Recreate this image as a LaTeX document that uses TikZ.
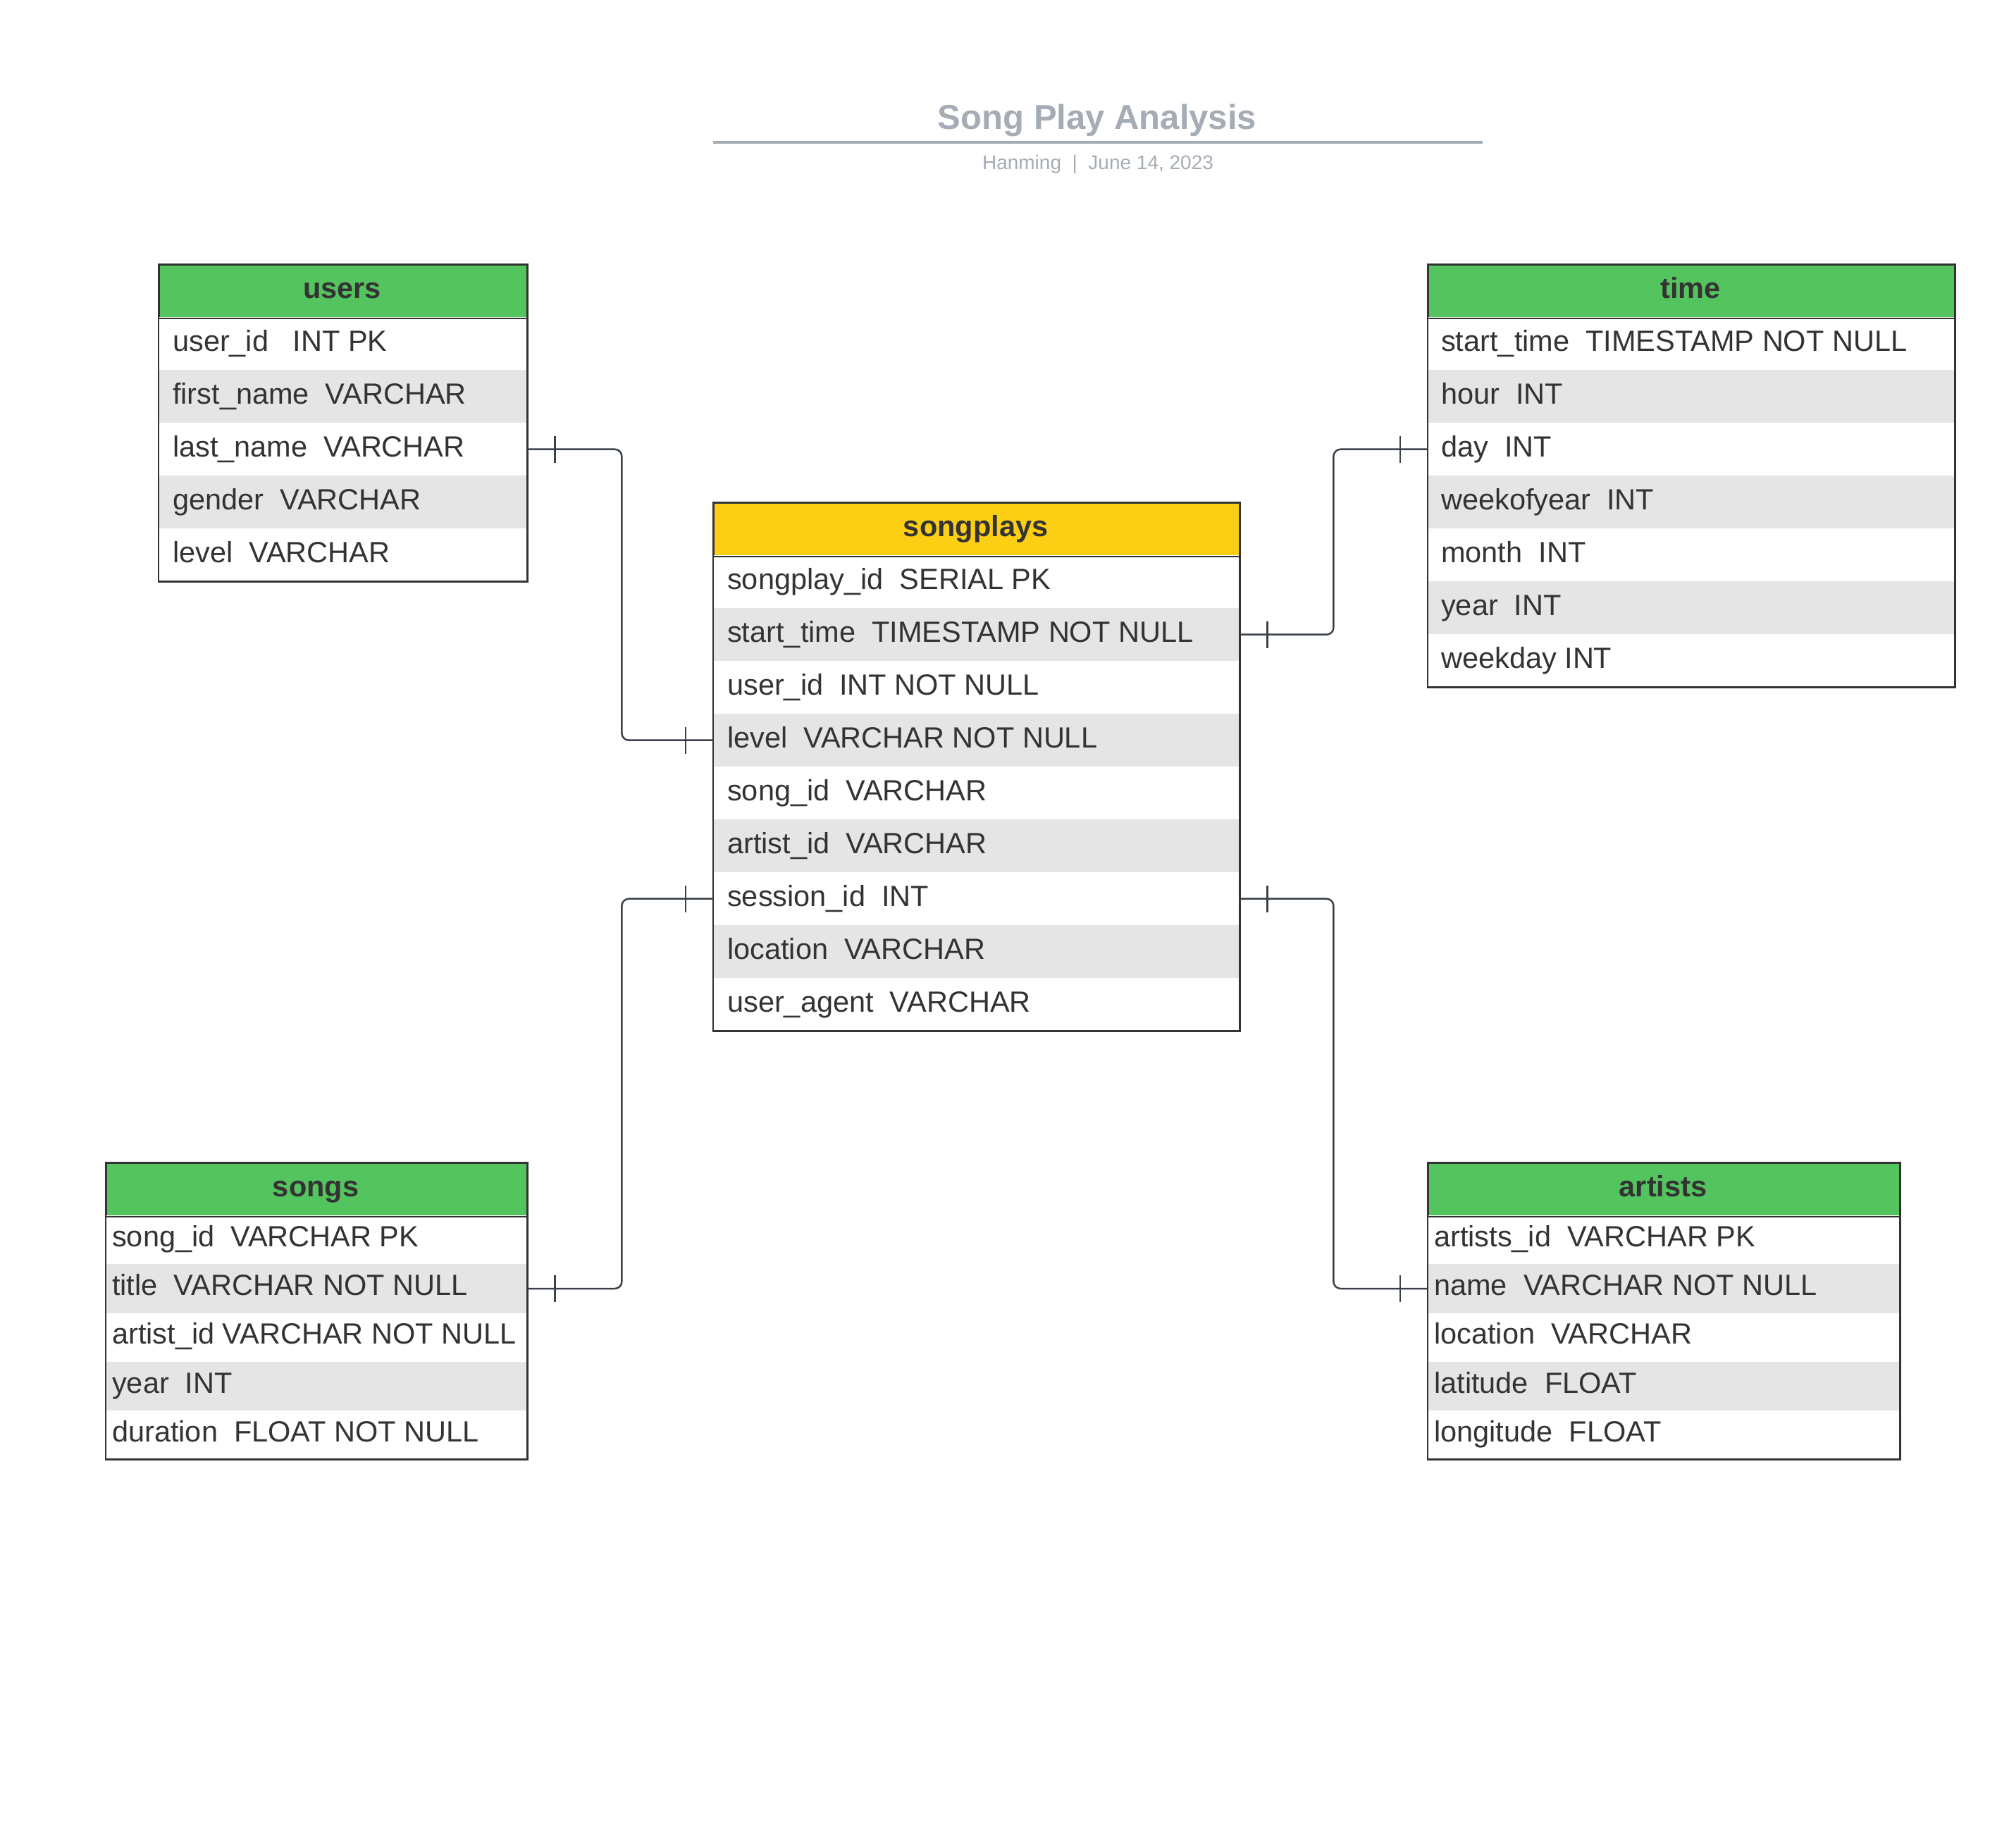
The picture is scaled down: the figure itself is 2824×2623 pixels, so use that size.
\documentclass[tikz,border=0pt]{standalone}
\usepackage{fontspec}
\setmainfont{Liberation Sans}
\usetikzlibrary{calc}
\definecolor{hdrgreen}{HTML}{54C45E}
\definecolor{hdryellow}{HTML}{FCCE14}
\definecolor{rowgray}{HTML}{E5E5E5}
\definecolor{ink}{HTML}{333333}
\definecolor{edgecol}{HTML}{3A414B}
\definecolor{titlegray}{HTML}{A5ACB5}
\tikzset{
 hdrbox/.style={draw=ink, line width=2.2pt, inner sep=0pt, minimum height=75pt},
 hdrtext/.style={inner sep=0pt, anchor=base, text=ink, font=\bfseries\fontsize{41.5}{49}\selectfont},
 rowbox/.style={inner sep=0pt, draw=none},
 fieldtext/.style={inner sep=0pt, font=\fontsize{41.5}{49}\selectfont, text=ink, anchor=base west},
 conn/.style={draw=edgecol, line width=2.5pt, rounded corners=10pt},
 tickmark/.style={draw=edgecol, line width=2.5pt},
}
% #1 name, #2 x, #3 y, #4 width, #5 row height, #6 header colour, #7 title, #8 inset, #9 rows
\newcommand{\ertable}[9]{%
  \node[hdrbox, fill=#6, minimum width=#4pt, anchor=north west] (#1) at (#2,#3) {};
  \node[hdrtext] (#1-t) at ($(#1.center)+(-2,10)$) {#7};
  \foreach \f [count=\i] in {#9} {
    \pgfmathsetmacro\yy{#3+75+(\i-1)*#5}
    \ifodd\i\relax\def\rc{white}\else\def\rc{rowgray}\fi
    \node[rowbox, fill=\rc, minimum width=#4pt, minimum height=#5pt, anchor=north west] (#1-\i) at (#2,\yy) {};
    \node[fieldtext] (#1-\i-t) at ($(#1-\i.west)+(#8,#5*0.14)$) {\f};
    \xdef\ernrows{\i}
  }
  \draw[ink, line width=2.2pt] (#1.north west) rectangle (#1-\ernrows.south east);
  \draw[ink, line width=2.2pt] (#1.south west) -- (#1.south east);
}
\begin{document}
\begin{tikzpicture}[x=1pt, y=-1pt]
\useasboundingbox[fill=white] (0,0) rectangle (2824,2623);

% title
\node[inner sep=0pt, anchor=base, text=titlegray, font=\bfseries\fontsize{49}{58}\selectfont] (title) at (1557,183) {Song Play Analysis};
\draw[titlegray, line width=4pt] (1012,202) coordinate (ruleA) -- (2104,202) coordinate (ruleB);
\node[inner sep=0pt, anchor=base, text=titlegray, font=\fontsize{28}{34}\selectfont] (subtitle) at (1558,240) {Hanming\ \ |\ \ June 14, 2023};

\ertable{users}{225}{375}{523}{75}{hdrgreen}{users}{20}{user\_id\ \ \ INT PK, first\_name\ \ VARCHAR, last\_name\ \ VARCHAR, gender\ \ VARCHAR, level\ \ VARCHAR}

\ertable{sp}{1012}{713}{747}{75}{hdryellow}{songplays}{20}{songplay\_id\ \ SERIAL PK, start\_time\ \ TIMESTAMP NOT NULL, user\_id\ \ INT NOT NULL, level\ \ VARCHAR NOT NULL, song\_id\ \ VARCHAR, artist\_id\ \ VARCHAR, session\_id\ \ INT, location\ \ VARCHAR, user\_agent\ \ VARCHAR}

\ertable{time}{2026}{375}{748}{75}{hdrgreen}{time}{19}{start\_time\ \ TIMESTAMP NOT NULL, hour\ \ INT, day\ \ INT, weekofyear\ \ INT, month\ \ INT, year\ \ INT, weekday INT}

\ertable{songs}{150}{1650}{598}{69.2}{hdrgreen}{songs}{9}{song\_id\ \ VARCHAR PK, title\ \ VARCHAR NOT NULL, artist\_id VARCHAR NOT NULL, year\ \ INT, duration\ \ FLOAT NOT NULL}

\ertable{artists}{2026}{1650}{670}{69.2}{hdrgreen}{artists}{9}{artists\_id\ \ VARCHAR PK, name\ \ VARCHAR NOT NULL, location\ \ VARCHAR, latitude\ \ FLOAT, longitude\ \ FLOAT}

% connectors
\draw[conn] (users-3.east) -- ++(134,0) |- (sp-4.west);
\draw[conn] (sp-2.east) -- ++(133,0) |- (time-3.west);
\draw[conn] (songs-2.east) -- ++(134,0) |- (sp-7.west);
\draw[conn] (sp-7.east) -- ++(133,0) |- (artists-2.west);

% one-to-one ticks
\draw[tickmark] ($(users-3.east)+(39,-19)$) -- ++(0,38);
\draw[tickmark] ($(sp-4.west)+(-39,-19)$) -- ++(0,38);
\draw[tickmark] ($(sp-2.east)+(39,-19)$) -- ++(0,38);
\draw[tickmark] ($(time-3.west)+(-39,-19)$) -- ++(0,38);
\draw[tickmark] ($(songs-2.east)+(39,-19)$) -- ++(0,38);
\draw[tickmark] ($(sp-7.west)+(-39,-19)$) -- ++(0,38);
\draw[tickmark] ($(sp-7.east)+(39,-19)$) -- ++(0,38);
\draw[tickmark] ($(artists-2.west)+(-39,-19)$) -- ++(0,38);
\end{tikzpicture}
\end{document}
